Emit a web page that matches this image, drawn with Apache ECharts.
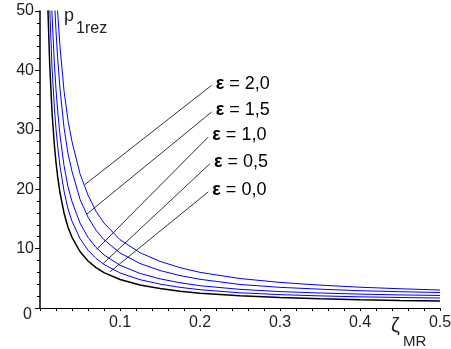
<!DOCTYPE html>
<html>
<head>
<meta charset="utf-8">
<script src="https://cdn.jsdelivr.net/npm/echarts@6/dist/echarts.min.js"></script>
<style>
  html, body { margin: 0; padding: 0; background: #fff; }
  #chart { width: 451px; height: 349px; }
</style>
</head>
<body>
<div id="chart"></div>
<script>
// ζ_MR sample points
const zeta = [0.009, 0.01, 0.012, 0.015, 0.018, 0.02, 0.022, 0.025, 0.03, 0.035, 0.04, 0.05, 0.06, 0.07, 0.08,
  0.1, 0.125, 0.15, 0.175, 0.2, 0.25, 0.3, 0.35, 0.4, 0.45, 0.5];

// p_1rez for each ε
const eps00 = [55.6, 50.0, 41.5, 33.0, 27.4, 24.5, 22.2, 19.4, 16.0, 13.6, 11.9, 9.5, 7.92, 6.8, 5.96,
  4.8, 3.88, 3.27, 2.83, 2.5, 2.05, 1.76, 1.56, 1.4, 1.28, 1.19];
const eps05 = [68.4, 61.5, 51.0, 40.6, 33.7, 30.1, 27.3, 23.9, 19.7, 16.7, 14.6, 11.7, 9.74, 8.36, 7.33,
  5.9, 4.77, 4.02, 3.48, 3.08, 2.56, 2.25, 2.04, 1.88, 1.77, 1.68];
const eps10 = [83.4, 75.0, 62.3, 49.5, 41.1, 36.8, 33.3, 29.1, 24.0, 20.4, 17.9, 14.3, 11.9, 10.2, 8.94,
  7.2, 5.82, 4.91, 4.25, 3.75, 3.14, 2.76, 2.53, 2.34, 2.2, 2.11];
const eps15 = [105.6, 95.0, 78.9, 62.7, 52.1, 46.6, 42.2, 36.9, 30.4, 26.0, 23.0, 18.3, 15.3, 13.1, 11.5,
  9.26, 7.49, 6.31, 5.46, 4.83, 3.96, 3.48, 3.17, 2.91, 2.74, 2.61];
const eps20 = [125, 112.5, 93.4, 74.3, 61.7, 55.1, 50.0, 44.0, 36.6, 31.6, 28.0, 22.6, 19.0, 16.3, 14.3,
  11.5, 9.31, 7.85, 6.79, 6.0, 4.96, 4.31, 3.85, 3.5, 3.24, 3.03];

// leader lines: [point on curve, label anchor] in data units
const leaderNames = ['2,0', '1,5', '1,0', '0,5', '0,0'];
const leaderFrom = [[0.0563, 20.8], [0.0584, 15.8], [0.0709, 9.87], [0.0791, 7.51], [0.0875, 6.1]];
const leaderTo = [[0.2146, 37.5], [0.2146, 33.0], [0.2104, 28.8], [0.2125, 24.3], [0.2104, 19.55]];

const xTicks = ['0', '0.1', '0.2', '0.3', '0.4', '0.5'];

const FONT = 'Liberation Sans';
const chart = echarts.init(document.getElementById('chart'));

function curve(vals, color, width) {
  return {
    type: 'line',
    data: zeta.map((z, i) => [z, vals[i]]),
    symbol: 'none',
    smooth: false,
    clip: true,
    lineStyle: { color: color, width: width },
    silent: true
  };
}

const series = [
  curve(eps20, '#0000ff', 1),
  curve(eps15, '#0000ff', 1),
  curve(eps10, '#0000ff', 1),
  curve(eps05, '#0000ff', 1),
  curve(eps00, '#000000', 1.5)
];

leaderNames.forEach((name, i) => {
  series.push({
    type: 'line',
    data: [leaderFrom[i], leaderTo[i]],
    symbol: 'none',
    lineStyle: { color: '#000', width: 0.8 },
    silent: true,
    endLabel: {
      show: true,
      formatter: '{e|ε} = ' + name,
      distance: 4,
      offset: [0, -1.5],
      color: '#000',
      fontFamily: FONT,
      fontSize: 18,
      rich: { e: { fontFamily: FONT, fontSize: 18, fontWeight: 'bold', color: '#000' } }
    }
  });
});

chart.setOption({
  animation: false,
  backgroundColor: '#fff',
  grid: { left: 40, right: 11, top: 11, bottom: 41, containLabel: false, outerBoundsMode: 'none' },
  xAxis: {
    type: 'value',
    min: 0,
    max: 0.5,
    interval: 0.1,
    axisLine: { lineStyle: { color: '#000', width: 1 } },
    axisTick: { show: true, inside: false, length: 3, lineStyle: { color: '#000' } },
    minorTick: { show: true, splitNumber: 5, length: 3, lineStyle: { color: '#000' } },
    splitLine: { show: false },
    axisLabel: {
      showMinLabel: false,
      margin: 7,
      color: '#222',
      fontFamily: FONT,
      fontSize: 16,
      formatter: v => xTicks[Math.round(v * 10)]
    }
  },
  yAxis: {
    type: 'value',
    min: 0,
    max: 50,
    interval: 10,
    axisLine: { show: true, lineStyle: { color: '#000', width: 1.5 } },
    axisTick: { show: true, inside: false, length: 5, lineStyle: { color: '#000' } },
    minorTick: { show: true, splitNumber: 5, length: 3, lineStyle: { color: '#000' } },
    splitLine: { show: false },
    axisLabel: { showMinLabel: false, margin: 6, color: '#222', fontFamily: FONT, fontSize: 16 }
  },
  graphic: [
    { type: 'text', x: 23, y: 315, style: { text: '0', font: '16px ' + FONT, fill: '#222', verticalAlign: 'middle' } },
    { type: 'text', x: 64, y: 16, style: { text: 'p', font: '18px ' + FONT, fill: '#222', verticalAlign: 'middle' } },
    { type: 'text', x: 76, y: 29, style: { text: '1rez', font: '16px ' + FONT, fill: '#222', verticalAlign: 'middle' } },
    { type: 'text', x: 391, y: 326, style: { text: 'ζ', font: '20px ' + FONT, fill: '#222', verticalAlign: 'middle' } },
    { type: 'text', x: 403, y: 342, style: { text: 'MR', font: '15px ' + FONT, fill: '#222', verticalAlign: 'middle' } }
  ],
  series: series
});
</script>
</body>
</html>
